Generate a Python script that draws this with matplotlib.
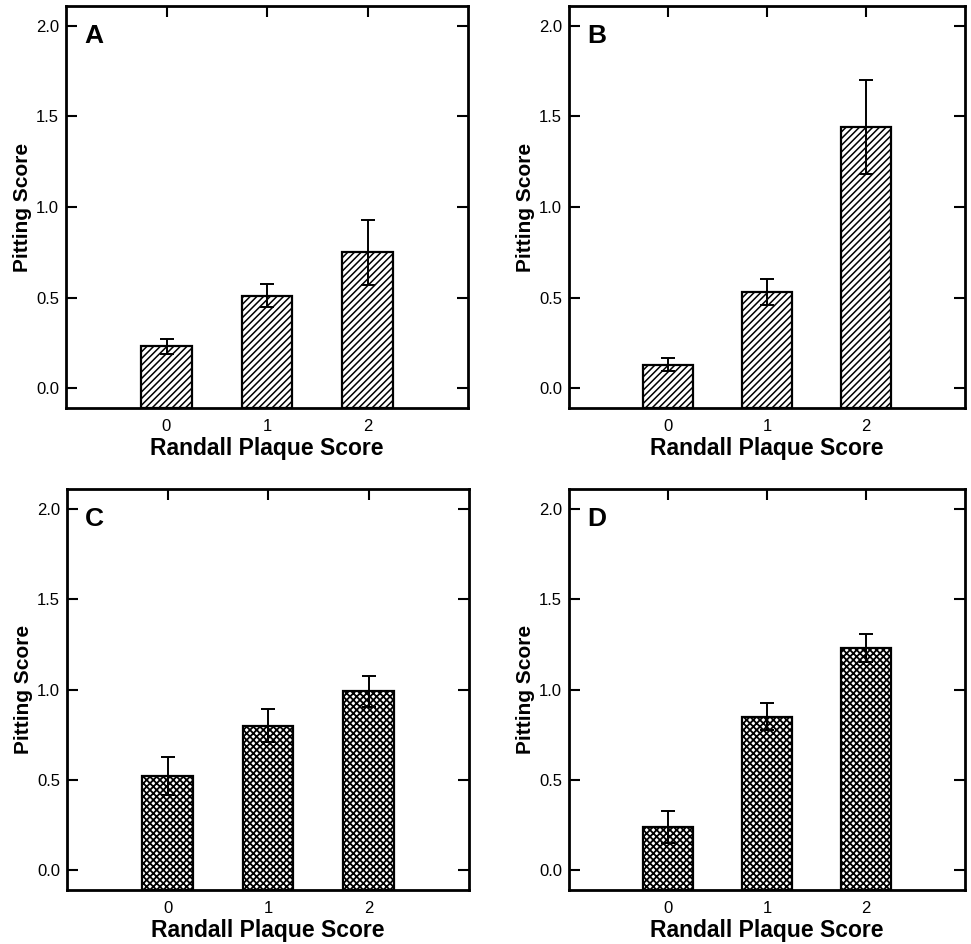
import matplotlib
matplotlib.use("Agg")
import matplotlib.pyplot as plt
import numpy as np
from matplotlib.ticker import FormatStrFormatter

plt.rcParams['font.family'] = ['Liberation Sans', 'DejaVu Sans']

categories = [0, 1, 2]
panel_letters = ["A", "B", "C", "D"]
means_A = [0.23, 0.51, 0.75]
errs_A = [0.04, 0.065, 0.18]
means_B = [0.13, 0.53, 1.44]
errs_B = [0.035, 0.07, 0.26]
means_C = [0.52, 0.80, 0.99]
errs_C = [0.105, 0.09, 0.085]
means_D = [0.24, 0.85, 1.23]
errs_D = [0.09, 0.075, 0.077]
hatches = ["/////", "/////", "xxxxx", "xxxxx"]
yticks = [0.0, 0.5, 1.0, 1.5, 2.0]
xlabel = "Randall Plaque Score"
ylabel = "Pitting Score"

all_means = [means_A, means_B, means_C, means_D]
all_errs = [errs_A, errs_B, errs_C, errs_D]

YMIN, YMAX = -0.11, 2.11

fig = plt.figure(figsize=(9.71, 9.44), dpi=100)
positions = [
    [66/971, 1-408/944, 402/971, 402/944],
    [569/971, 1-408/944, 396/971, 402/944],
    [67/971, 1-890/944, 402/971, 401/944],
    [569/971, 1-890/944, 396/971, 401/944],
]

for i in range(4):
    ax = fig.add_axes(positions[i])
    m = np.asarray(all_means[i])
    # bars rise from the bottom frame, as in the original figure
    bars = ax.bar(categories, m - YMIN, bottom=YMIN, width=0.5, color='white',
                  edgecolor='black', linewidth=1.6, hatch=hatches[i], zorder=2)
    for p in bars:
        if hasattr(p, 'set_hatch_linewidth'):
            p.set_hatch_linewidth(1.3 if 'x' in hatches[i] else 1.1)
    ax.errorbar(categories, m, yerr=all_errs[i], fmt='none',
                ecolor='black', elinewidth=1.4, capsize=5, capthick=1.4, zorder=3)
    ax.set_xlim(-1, 3)
    ax.set_ylim(YMIN, YMAX)
    ax.set_xticks(categories)
    ax.set_yticks(yticks)
    ax.yaxis.set_major_formatter(FormatStrFormatter('%.1f'))
    ax.tick_params(axis='both', which='major', direction='in', length=8, width=1.5,
                   top=True, right=True, labelsize=12)
    ax.tick_params(axis='y', pad=5)
    ax.tick_params(axis='x', pad=8)
    for s in ax.spines.values():
        s.set_linewidth(2)
        s.set_zorder(4)
    ax.set_xlabel(xlabel, fontsize=16.5, fontweight='bold', labelpad=2)
    ax.set_ylabel(ylabel, fontsize=15, fontweight='bold', labelpad=3)
    ax.text(0.045, 0.955, panel_letters[i], transform=ax.transAxes,
            fontsize=19, fontweight='bold', va='top', ha='left')

fig.savefig("out.png", dpi=100)
